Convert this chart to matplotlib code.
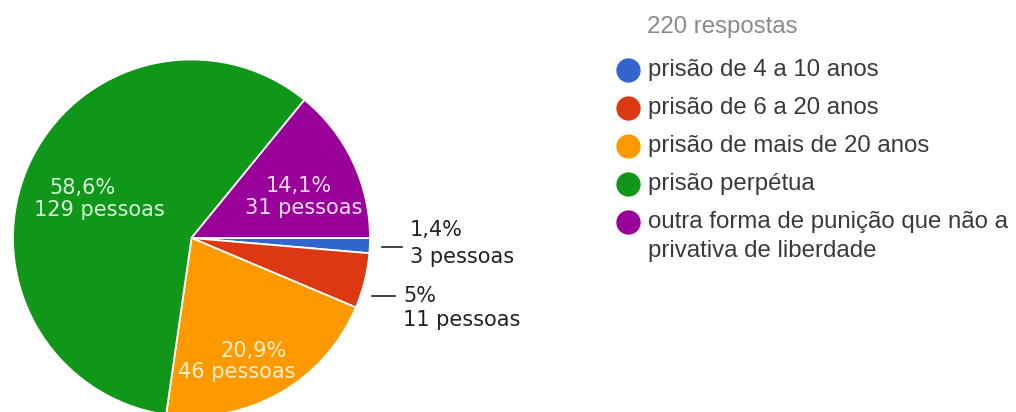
import matplotlib
matplotlib.use("Agg")
import matplotlib.pyplot as plt

# data
categories = [
    "prisão de 4 a 10 anos",
    "prisão de 6 a 20 anos",
    "prisão de mais de 20 anos",
    "prisão perpétua",
    "outra forma de punição que não a\nprivativa de liberdade",
]
counts = [3, 11, 46, 129, 31]
pct_labels = ["1,4%", "5%", "20,9%", "58,6%", "14,1%"]
colors = ["#3366cc", "#dc3912", "#ff9900", "#109618", "#990099"]
total_label = "220 respostas"

W, H = 1016, 412
fig = plt.figure(figsize=(W / 100, H / 100), dpi=100)
fig.patch.set_facecolor("white")

# pie axes, laid out in pixels: centre (191.5, 238), radius 178.5
cx, cy, r = 191.5, 238.0, 178.5
ax = fig.add_axes([(cx - r) / W, (H - cy - r) / H, 2 * r / W, 2 * r / H])
ax.pie(counts, colors=colors, startangle=0, counterclock=False,
       wedgeprops=dict(edgecolor="white", linewidth=1.3))
ax.set_xlim(-1, 1)
ax.set_ylim(-1, 1)
ax.axis("off")

# overlay in pixel coordinates for labels and legend
ov = fig.add_axes([0, 0, 1, 1])
ov.set_xlim(0, W)
ov.set_ylim(H, 0)
ov.axis("off")

lab_font = dict(family="DejaVu Sans", fontsize=15)

# labels inside the slices (pct line, count line)
inside = {
    2: ((254, 351), (237, 372), "#fff1cc"),
    3: ((82, 188), (99, 210), "#d8f7d8"),
    4: ((299, 186), (304, 208), "#f7dcf7"),
}
for i, (p1, p2, tc) in inside.items():
    ov.text(p1[0], p1[1], pct_labels[i], ha="center", va="center", color=tc, **lab_font)
    ov.text(p2[0], p2[1], f"{counts[i]} pessoas", ha="center", va="center", color=tc, **lab_font)

# labels outside for the small slices
outside = {
    0: ((382, 402, 247), (410, 230), (410, 257)),
    1: ((372, 395, 296), (403, 296), (403, 320)),
}
for i, (ln, p1, p2) in outside.items():
    ov.plot([ln[0], ln[1]], [ln[2], ln[2]], color="#222222", lw=1.2)
    ov.text(p1[0], p1[1], pct_labels[i], ha="left", va="center", color="#222222", **lab_font)
    ov.text(p2[0], p2[1], f"{counts[i]} pessoas", ha="left", va="center", color="#222222", **lab_font)

# legend
leg_font = dict(family="Liberation Sans", fontsize=17.3)
ov.text(647, 27, total_label, ha="left", va="center", color="#8a8a8a", **leg_font)
leg_y = [70, 108, 146, 184, 222]
for name, c, y in zip(categories, colors, leg_y):
    ov.plot(628, y, "o", ms=16.5, color=c, mec=c)
    for k, line in enumerate(name.split("\n")):
        ov.text(648, y + 29 * k, line, ha="left", va="center", color="#3a3a3a", **leg_font)

fig.savefig("out.png", dpi=100)
